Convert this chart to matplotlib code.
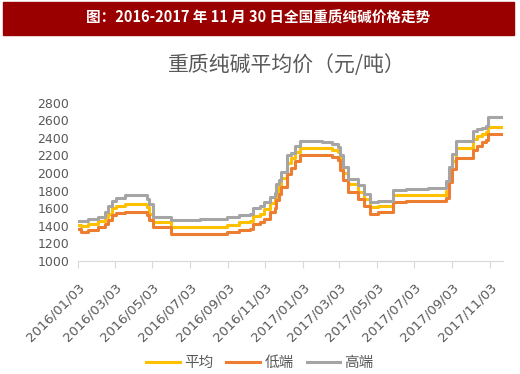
import matplotlib
matplotlib.use("Agg")
import matplotlib.pyplot as plt
import matplotlib.dates as mdates
from matplotlib.patches import Rectangle
import pandas as pd

# step points of the weekly price series (yuan/ton)
dates = ["2016-01-03", "2016-01-08", "2016-01-20", "2016-02-05", "2016-02-17",
         "2016-02-22", "2016-02-27", "2016-03-05", "2016-03-20", "2016-04-24",
         "2016-04-28", "2016-05-05", "2016-06-03", "2016-07-20", "2016-09-01",
         "2016-09-22", "2016-10-09", "2016-10-14", "2016-10-25", "2016-11-01",
         "2016-11-11", "2016-11-18", "2016-11-21", "2016-11-25", "2016-11-29",
         "2016-12-09", "2016-12-14", "2016-12-22", "2016-12-30", "2017-02-04",
         "2017-02-20", "2017-03-01", "2017-03-05", "2017-03-10", "2017-03-18",
         "2017-04-03", "2017-04-12", "2017-04-22", "2017-05-06", "2017-05-29",
         "2017-06-20", "2017-07-25", "2017-08-24", "2017-08-29", "2017-09-03",
         "2017-09-09", "2017-10-06", "2017-10-14", "2017-10-22", "2017-10-28",
         "2017-10-31", "2017-11-24"]

high = [1460, 1450, 1480, 1505, 1560, 1620, 1680, 1715, 1745, 1700,
        1650, 1500, 1465, 1475, 1495, 1520, 1530, 1600, 1620, 1670,
        1730, 1770, 1880, 1920, 2010, 2200, 2230, 2310, 2360, 2350,
        2330, 2300, 2200, 2070, 1935, 1860, 1765, 1675, 1680, 1810,
        1820, 1825, 1915, 2070, 2220, 2370, 2480, 2500, 2510, 2540,
        2635, 2635]

avg = [1410, 1400, 1425, 1450, 1500, 1540, 1600, 1630, 1650, 1610,
       1530, 1440, 1385, 1390, 1410, 1440, 1450, 1515, 1535, 1590,
       1660, 1700, 1790, 1850, 1940, 2110, 2170, 2240, 2290, 2280,
       2265, 2240, 2130, 2000, 1870, 1790, 1700, 1615, 1620, 1745,
       1750, 1755, 1800, 2010, 2140, 2280, 2390, 2420, 2445, 2470,
       2525, 2525]

low = [1365, 1335, 1350, 1385, 1420, 1465, 1520, 1545, 1555, 1520,
       1465, 1385, 1305, 1305, 1325, 1350, 1365, 1420, 1440, 1480,
       1560, 1600, 1690, 1760, 1840, 1990, 2060, 2140, 2210, 2200,
       2180, 2150, 2040, 1920, 1780, 1700, 1620, 1540, 1555, 1675,
       1680, 1685, 1720, 1900, 2050, 2170, 2260, 2310, 2350, 2380,
       2440, 2440]

series_names = ["平均", "低端", "高端"]
series_colors = ["#FFC000", "#ED7D31", "#A5A5A5"]

x = pd.to_datetime(dates)

plt.rcParams["font.family"] = ["Noto Sans CJK SC", "DejaVu Sans"]

fig = plt.figure(figsize=(5.2, 3.74), dpi=100)

# red banner with the caption
fig.patches.append(Rectangle((3 / 520, 1 - 35 / 374), 511 / 520, 33 / 374,
                             transform=fig.transFigure, color="#9A0000", zorder=0))
fig.text(0.496, 1 - 18 / 374, "图：2016-2017 年 11 月 30 日全国重质纯碱价格走势",
         color="white", fontsize=10.5, fontweight="bold", ha="center", va="center")

fig.text(286.5 / 520, 1 - 65 / 374, "重质纯碱平均价（元/吨）", color="#595959",
         fontsize=15, ha="center", va="center")

ax = fig.add_axes([77.7 / 520, 1 - 261 / 374, 425 / 520, 158.3 / 374])

for vals, name, col in zip([avg, low, high], series_names, series_colors):
    ax.plot(x, vals, drawstyle="steps-post", color=col, lw=2.2, label=name)

ax.set_ylim(1000, 2800)
ax.set_yticks(range(1000, 2801, 200))
ax.set_xlim(pd.Timestamp("2016-01-03"), pd.Timestamp("2017-11-24"))
tick_dates = pd.date_range("2016-01-01", "2017-11-01", freq="2MS") + pd.Timedelta(days=2)
ax.set_xticks(tick_dates)
ax.xaxis.set_major_formatter(mdates.DateFormatter("%Y/%m/%d"))

for s in ["left", "top", "right"]:
    ax.spines[s].set_visible(False)
ax.spines["bottom"].set_color("#D9D9D9")
ax.tick_params(axis="y", length=0, labelsize=9, labelcolor="#595959", pad=6)
ax.tick_params(axis="x", length=5, color="#D9D9D9", labelsize=9.5, labelcolor="#595959",
               pad=9)
for lab in ax.get_xticklabels():
    lab.set_family("DejaVu Sans")
    lab.set_rotation(45)
    lab.set_ha("right")
    lab.set_rotation_mode("anchor")
for lab in ax.get_yticklabels():
    lab.set_family("DejaVu Sans")

fig.legend(loc="center", bbox_to_anchor=(0.5, 1 - 363 / 374), ncol=3, frameon=False,
           fontsize=10.5, handlelength=2.3, handletextpad=0.3, columnspacing=0.9,
           labelcolor="#595959")

plt.savefig("out.png", dpi=100)
